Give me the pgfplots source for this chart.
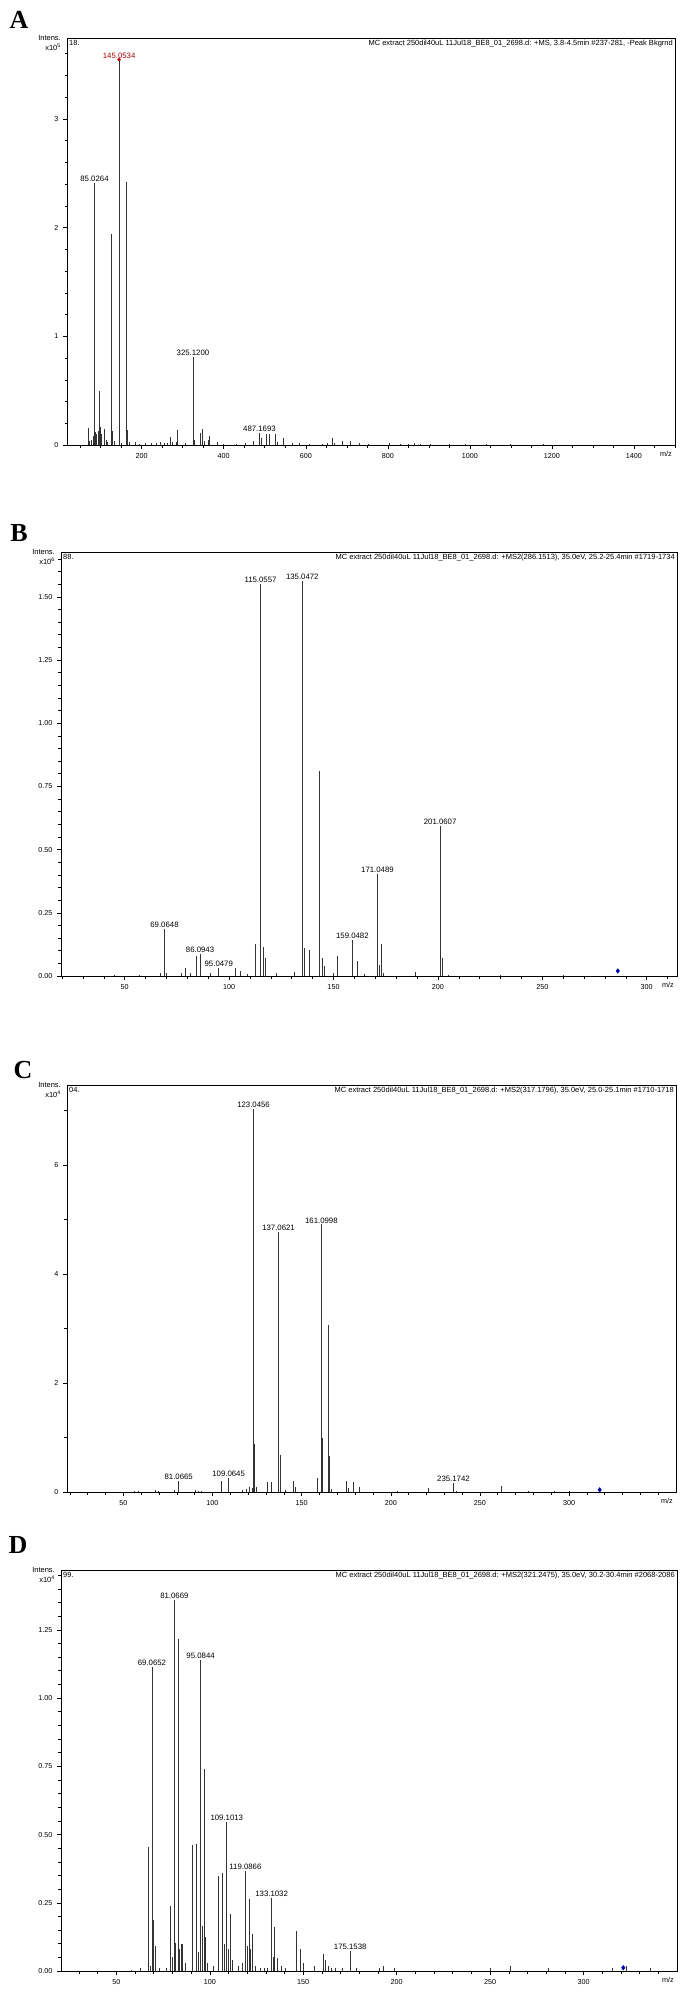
\documentclass[border=0pt]{standalone}
\usepackage{fontspec}
\setmainfont{Liberation Sans}
\newfontfamily\labfont{Liberation Serif}
\usepackage{pgfplots}
\pgfplotsset{compat=1.18}

\tikzset{hdr/.style={font=\fontsize{7.5}{8}\selectfont}}
\pgfplotsset{
  ms/.style={
    scale only axis, anchor=north west, clip=false,
    axis line style={black, line width=0.6pt},
    tick align=outside, xtick pos=left, ytick pos=left,
    major tick length=4pt, minor tick length=2.5pt,
    every tick/.style={black, line width=0.5pt},
    tick label style={font=\fontsize{7.2}{8}\selectfont},
    /pgf/number format/assume math mode=true,
    /pgf/number format/1000 sep={},
    ymin=0, scaled y ticks=false, scaled x ticks=false,
    xticklabel style={yshift=-1pt},
    yticklabel style={xshift=-1pt},
    every node near coord/.style={font=\fontsize{7.8}{8}\selectfont, inner sep=1.2pt, text=black},
  },
  pk/.style={ycomb, black!80, line width=0.9pt},
  lb/.style={draw=none, mark=none, nodes near coords, point meta=explicit symbolic},
}
\newcommand{\decor}[3]{%
  \node[hdr, anchor=north east, inner sep=0pt] at ([xshift=-2pt,yshift=-2pt]rel axis cs:1,1) {#1};
  \node[hdr, anchor=north west, inner sep=0pt] at ([xshift=2pt,yshift=-2pt]rel axis cs:0,1) {#2};
  \node[hdr, anchor=east, inner sep=0pt] at ([xshift=-6pt]rel axis cs:0,1) {Intens.};
  \node[hdr, anchor=east, inner sep=0pt] at ([xshift=-6pt,yshift=-9pt]rel axis cs:0,1) {x10\textsuperscript{#3}};
  \node[font=\fontsize{7.2}{8}\selectfont, anchor=north east, inner sep=0pt] at ([xshift=-3pt,yshift=-6pt]rel axis cs:1,0) {m/z};
}

\begin{document}
\begin{tikzpicture}
\useasboundingbox (0pt,0pt) rectangle (685pt,-2004pt);
\fill[white] (0pt,0pt) rectangle (685pt,-2004pt);

\node[font=\labfont\bfseries\fontsize{26}{26}\selectfont] at (19pt,-20pt) {A};
\node[font=\labfont\bfseries\fontsize{26}{26}\selectfont] at (19pt,-533pt) {B};
\node[font=\labfont\bfseries\fontsize{26}{26}\selectfont] at (23pt,-1070pt) {C};
\node[font=\labfont\bfseries\fontsize{26}{26}\selectfont] at (18pt,-1545pt) {D};

% ---------------- A ----------------
\begin{axis}[ms, at={(67pt,-38pt)}, width=608pt, height=407pt,
  xmin=18, xmax=1500, ymax=3.744,
  xtick={200,400,...,1400}, minor xtick={50,100,...,1500},
  ytick={0,1,2,3}, minor ytick={0.2,0.4,...,3.6}]
\addplot[pk] table {
70 0.16
72 0.04
78 0.05
83 0.08
85.0264 2.41
87 0.12
91 0.10
95 0.13
98 0.50
100 0.17
103 0.10
109 0.15
113 0.05
117 0.03
127 1.94
129 0.13
133 0.04
145.0534 3.545
147 0.05
151 0.02
163 2.415
165 0.14
171 0.03
185 0.03
195 0.01
210 0.02
225 0.015
235 0.02
245 0.025
255 0.02
262 0.02
269 0.07
274 0.03
285 0.03
288 0.14
306 0.015
325.12 0.81
329 0.05
343 0.11
347 0.15
352 0.04
362 0.05
366 0.08
384 0.03
400 0.01
430 0.01
454 0.02
472 0.04
487.1693 0.11
491 0.06
505 0.10
512 0.10
526 0.10
530 0.03
546 0.06
567 0.02
585 0.015
610 0.01
640 0.01
652 0.015
665 0.06
670 0.02
689 0.04
708 0.04
730 0.015
752 0.01
805 0.015
830 0.01
850 0.01
865 0.02
880 0.01
905 0.01
950 0.008
990 0.008
1040 0.006
1100 0.006
1180 0.005
1300 0.004
};
\addplot[lb] table[meta=lab] {
x y lab
85.0264 2.41 85.0264
325.12 0.81 325.1200
487.1693 0.11 487.1693
};
\addplot[lb, every node near coord/.append style={text=red!65!black}] table[meta=lab] {
x y lab
145.0534 3.545 145.0534
};
\addplot[only marks, mark=*, mark size=1.6pt, red!75!black] coordinates {(145.0534,3.545)};
\decor{MC extract 250dil40uL 11Jul18\_BE8\_01\_2698.d: +MS, 3.8-4.5min \#237-281, -Peak Bkgrnd}{18.}{5}
\end{axis}

% ---------------- B ----------------
\begin{axis}[ms, at={(61pt,-552pt)}, width=616pt, height=424pt,
  xmin=19.5, xmax=314.5, ymax=1.677,
  xtick={50,100,...,300}, minor xtick={20,30,...,310},
  ytick={0,0.25,0.5,0.75,1,1.25,1.5}, minor ytick={0.05,0.1,...,1.65},
  yticklabel style={/pgf/number format/.cd, fixed, fixed zerofill, precision=2}]
\addplot[pk] table {
45 0.005
57 0.004
67 0.01
69.0648 0.185
70 0.01
77.3 0.01
79.3 0.033
81.4 0.01
84.4 0.079
86.0943 0.086
90.9 0.01
95.0479 0.033
103.2 0.033
105.5 0.02
109 0.006
112.5 0.128
115.0557 1.551
116.3 0.116
117.3 0.073
122.6 0.01
131.5 0.015
135.0472 1.564
136.3 0.112
138.7 0.103
143.5 0.811
144.6 0.073
145.6 0.04
150 0.01
151.8 0.079
159.0482 0.141
161.4 0.059
165 0.008
171.0489 0.402
172 0.042
173.1 0.128
174 0.01
189.4 0.015
201.0607 0.595
202.1 0.07
205 0.005
230 0.003
260 0.003
};
\addplot[lb] table[meta=lab] {
x y lab
69.0648 0.185 69.0648
86.0943 0.086 86.0943
95.0479 0.033 95.0479
115.0557 1.551 115.0557
135.0472 1.564 135.0472
159.0482 0.141 159.0482
171.0489 0.402 171.0489
201.0607 0.595 201.0607
};
\addplot[only marks, mark=diamond*, mark size=2.3pt, blue!70!black] coordinates {(286.15,0.02)};
\decor{MC extract 250dil40uL 11Jul18\_BE8\_01\_2698.d: +MS2(286.1513), 35.0eV, 25.2-25.4min \#1719-1734}{88.}{6}
\end{axis}

% ---------------- C ----------------
\begin{axis}[ms, at={(67pt,-1085pt)}, width=609pt, height=407pt,
  xmin=18.4, xmax=360, ymax=7.47,
  xtick={50,100,...,300}, minor xtick={20,30,...,350},
  ytick={0,2,4,6}, minor ytick={1,3,5,7}]
\addplot[pk] table {
56.5 0.02
58.5 0.01
68 0.03
69.5 0.02
78.6 0.04
81.0665 0.196
90.5 0.03
92 0.02
94 0.02
104.9 0.21
109.0645 0.26
116.6 0.04
119 0.06
121 0.1
122.2 0.08
123.0456 7.03
123.8 0.89
124.7 0.1
130.9 0.18
133.2 0.18
137.0621 4.77
137.9 0.68
141 0.03
145.6 0.2
146.3 0.1
159 0.26
161.0998 4.91
161.7 0.99
164.9 3.07
165.6 0.66
166.5 0.06
175.2 0.2
176.5 0.08
179 0.18
182.7 0.09
203.6 0.02
221 0.07
235.1742 0.165
237 0.02
262.2 0.115
277 0.02
292 0.01
300 0.01
};
\addplot[lb] table[meta=lab] {
x y lab
81.0665 0.196 81.0665
109.0645 0.26 109.0645
123.0456 7.03 123.0456
137.0621 4.77 137.0621
161.0998 4.91 161.0998
235.1742 0.165 235.1742
};
\addplot[only marks, mark=diamond*, mark size=2.3pt, blue!70!black] coordinates {(317.18,0.04)};
\decor{MC extract 250dil40uL 11Jul18\_BE8\_01\_2698.d: +MS2(317.1796), 35.0eV, 25.0-25.1min \#1710-1718}{04.}{4}
\end{axis}

% ---------------- D ----------------
\begin{axis}[ms, at={(61pt,-1570pt)}, width=616pt, height=401pt,
  xmin=20.4, xmax=350, ymax=1.469,
  xtick={50,100,...,300}, minor xtick={30,40,...,340},
  ytick={0,0.25,0.5,0.75,1,1.25}, minor ytick={0.05,0.1,...,1.45},
  yticklabel style={/pgf/number format/.cd, fixed, fixed zerofill, precision=2}]
\addplot[pk] table {
58 0.005
63 0.01
67 0.455
68 0.02
69.0652 1.114
70 0.186
71 0.092
73 0.01
77 0.01
79 0.238
79.8 0.05
81.0669 1.361
81.9 0.104
83.1 1.217
83.9 0.08
84.9 0.1
85.5 0.098
87 0.03
90.9 0.46
92.8 0.464
93.8 0.07
95.0844 1.139
96.0 0.165
96.9 0.739
97.8 0.125
98.7 0.03
101.8 0.02
104.8 0.348
106.6 0.36
108 0.1
109.1013 0.547
110 0.08
111.3 0.208
112 0.04
115.6 0.02
117.4 0.03
119.0866 0.366
120 0.09
121.1 0.265
122 0.08
123 0.137
124.3 0.02
127 0.01
129 0.01
131 0.01
133.1032 0.269
134 0.05
134.7 0.162
136.4 0.049
138.2 0.02
140.5 0.01
146.6 0.147
148.4 0.082
150.2 0.03
155.8 0.02
161 0.063
162 0.04
163.5 0.02
165 0.01
167 0.01
171 0.01
175.1538 0.073
178.4 0.01
191 0.01
193 0.02
199 0.01
250.3 0.01
261 0.02
281 0.01
315.6 0.01
323 0.02
336 0.01
};
\addplot[lb] table[meta=lab] {
x y lab
69.0652 1.114 69.0652
81.0669 1.361 81.0669
95.0844 1.139 95.0844
109.1013 0.547 109.1013
119.0866 0.366 119.0866
133.1032 0.269 133.1032
175.1538 0.073 175.1538
};
\addplot[only marks, mark=diamond*, mark size=2.3pt, blue!70!black] coordinates {(321.25,0.012)};
\decor{MC extract 250dil40uL 11Jul18\_BE8\_01\_2698.d: +MS2(321.2475), 35.0eV, 30.2-30.4min \#2068-2086}{99.}{4}
\end{axis}
\end{tikzpicture}
\end{document}
